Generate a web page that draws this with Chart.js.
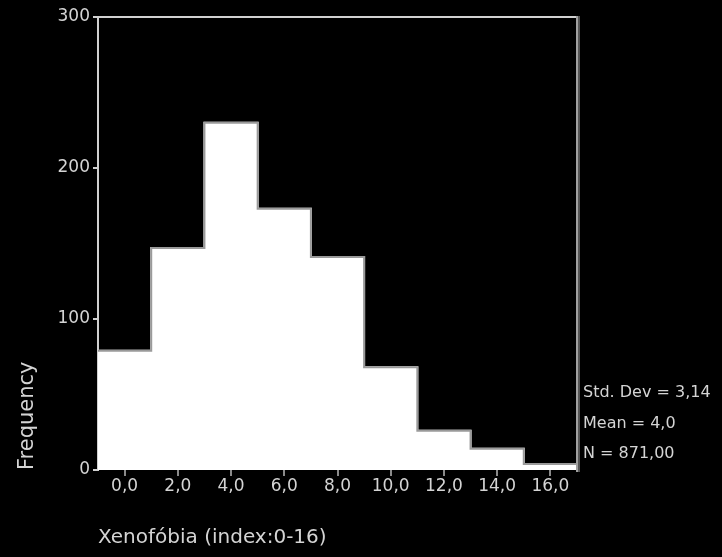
<!DOCTYPE html>
<html>
<head>
<meta charset="utf-8">
<script src="https://cdn.jsdelivr.net/npm/chart.js@4.4.1/dist/chart.umd.min.js"></script>
<style>
  html, body { margin: 0; padding: 0; background: #000; }
  #wrap { width: 722px; height: 557px; }
</style>
</head>
<body>
<div id="wrap"><canvas id="c" width="722" height="557"></canvas></div>
<script>
// ---- data ----
const categories = ['0,0', '2,0', '4,0', '6,0', '8,0', '10,0', '12,0', '14,0', '16,0'];
const frequencies = [79, 147, 230, 173, 141, 68, 26, 14, 4];
const yTickValues = [0, 100, 200, 300];
const statLines = ['Std. Dev = 3,14', 'Mean = 4,0', 'N = 871,00'];
const xTitle = 'Xenofóbia (index:0-16)';
const yTitle = 'Frequency';

const FONT = 'DejaVu Sans';
const TEXT = '#d4d4d4';

// outline of the histogram (step line along bar tops), frame top/right
const outlinePlugin = {
  id: 'outline',
  afterDatasetsDraw(chart) {
    const ctx = chart.ctx;
    const area = chart.chartArea;
    const meta = chart.getDatasetMeta(0);
    const els = meta.data;
    ctx.save();
    ctx.lineWidth = 2;
    ctx.strokeStyle = '#9a9a9a';
    ctx.beginPath();
    els.forEach((el, i) => {
      const p = el.getProps(['x', 'y', 'width'], true);
      const l = p.x - p.width / 2, r = p.x + p.width / 2;
      if (i === 0) ctx.moveTo(l, p.y);
      else ctx.lineTo(l, p.y);
      ctx.lineTo(r, p.y);
    });
    ctx.stroke();
    // top frame
    ctx.strokeStyle = '#d0d0d0';
    ctx.beginPath();
    ctx.moveTo(area.left - 5, area.top);
    ctx.lineTo(area.right + 2, area.top);
    ctx.stroke();
    // right frame
    ctx.lineWidth = 2;
    ctx.strokeStyle = '#a0a0a0';
    ctx.beginPath();
    ctx.moveTo(area.right, area.top - 1);
    ctx.lineTo(area.right, area.bottom + 2);
    ctx.stroke();
    ctx.strokeStyle = '#555555';
    ctx.beginPath();
    ctx.moveTo(area.right + 2, area.top - 1);
    ctx.lineTo(area.right + 2, area.bottom + 2);
    ctx.stroke();
    ctx.restore();
  }
};

const statsPlugin = {
  id: 'stats',
  afterDraw(chart) {
    const ctx = chart.ctx;
    const area = chart.chartArea;
    ctx.save();
    ctx.fillStyle = TEXT;
    ctx.font = '16px "' + FONT + '"';
    ctx.textBaseline = 'middle';
    ctx.textAlign = 'left';
    const x = area.right + 6;
    const yStart = area.bottom - 77;
    statLines.forEach((s, i) => ctx.fillText(s, x, yStart + i * 30.5));
    ctx.restore();
  }
};

new Chart(document.getElementById('c'), {
  type: 'bar',
  data: {
    labels: categories,
    datasets: [{
      data: frequencies,
      backgroundColor: '#ffffff',
      borderWidth: 0,
      inflateAmount: 1,
      barPercentage: 1,
      categoryPercentage: 1
    }]
  },
  options: {
    responsive: false,
    animation: false,
    layout: { padding: { top: 17, right: 145, bottom: 0, left: 0 } },
    plugins: { legend: { display: false }, tooltip: { enabled: false } },
    scales: {
      x: {
        type: 'category',
        offset: true,
        border: { display: false },
        grid: {
          offset: false,
          drawOnChartArea: false,
          drawTicks: true,
          tickLength: 6,
          tickColor: '#8a8a8a',
          lineWidth: 2
        },
        ticks: {
          color: TEXT,
          font: { family: FONT, size: 17 },
          padding: 0,
          maxRotation: 0,
          autoSkip: false
        },
        title: {
          display: true,
          text: xTitle,
          align: 'start',
          color: TEXT,
          font: { family: FONT, size: 20 },
          padding: { top: 0, bottom: 7 }
        },
        afterFit(s) { s.height = 87; }
      },
      y: {
        min: yTickValues[0],
        max: yTickValues[yTickValues.length - 1],
        border: { display: true, color: '#d0d0d0', width: 2 },
        grid: {
          drawOnChartArea: false,
          drawTicks: true,
          tickLength: 5,
          tickColor: '#d0d0d0',
          lineWidth: 2
        },
        ticks: {
          stepSize: yTickValues[1] - yTickValues[0],
          color: TEXT,
          font: { family: FONT, size: 17 },
          padding: 3
        },
        title: {
          display: true,
          text: yTitle,
          align: 'start',
          color: TEXT,
          font: { family: FONT, size: 21 },
          padding: { top: 15, bottom: 0 }
        },
        afterFit(s) { s.width = 98; }
      }
    }
  },
  plugins: [outlinePlugin, statsPlugin]
});
</script>
</body>
</html>
